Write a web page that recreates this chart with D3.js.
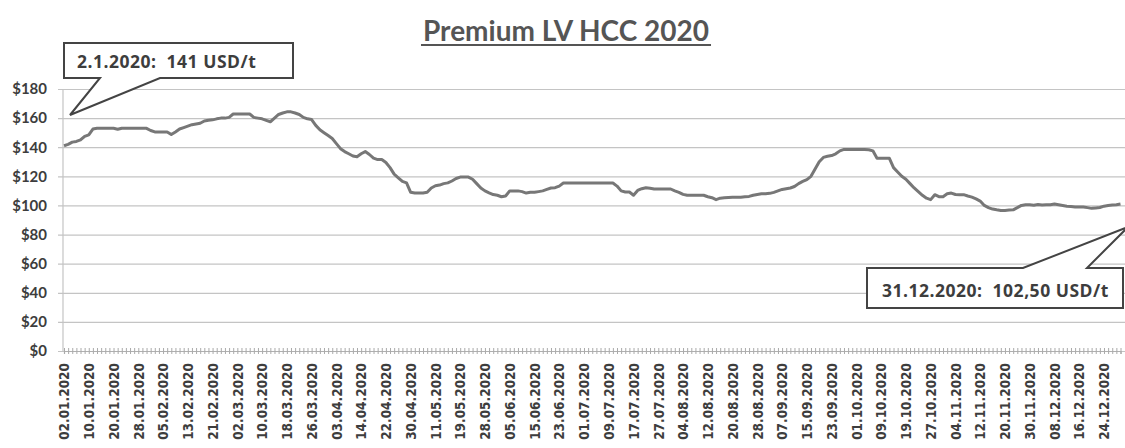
<!DOCTYPE html>
<html>
<head>
<meta charset="utf-8">
<script src="https://cdn.jsdelivr.net/npm/d3@7"></script>
<style>
  body { margin: 0; background: #fff; }
  svg { display: block; }
</style>
</head>
<body>
<script>
// chart text
var title = "Premium LV HCC 2020";
var startNote = "2.1.2020:  141 USD/t";
var endNote = "31.12.2020:  102,50 USD/t";

// trading days: all weekdays of 2020 from 2.1., minus these days
var holidays = ["10.04.2020", "01.05.2020", "21.05.2020", "25.12.2020"];
var yTicks = [0, 20, 40, 60, 80, 100, 120, 140, 160, 180];

// USD/t, one value per trading day
var prices = [
  141, 142, 143.5, 144, 145, 147.5, 148.5, 152.5, 153, 153,
  153, 153, 153, 152.3, 153, 153, 153, 153, 153, 153,
  153, 151.5, 150.5, 150.5, 150.5, 150.5, 148.7, 150.5, 152.5, 153.5,
  154.5, 155.5, 156, 156.5, 158, 158.5, 158.8, 159.5, 160, 160,
  160.5, 162.8, 162.8, 162.8, 162.8, 162.8, 160.5, 160, 159.5, 158.5,
  157.5, 160, 162.5, 163.5, 164.3, 164.3, 163.5, 162.5, 160.5, 159.5,
  159, 155, 152, 150, 148, 146, 142.5, 139, 137, 135.5,
  134, 133.5, 135.5, 137, 135, 132.5, 131.5, 131.5, 129.5, 126,
  121.5, 119, 116.5, 115.5, 109, 108.5, 108.5, 108.5, 109, 112,
  113.5, 114, 115, 115.5, 116.8, 118.5, 119.5, 119.5, 119.5, 118,
  115, 112, 110, 108.7, 107.5, 107, 106, 106.5, 110, 110,
  110, 109.5, 108.5, 109, 109, 109.5, 110, 111, 112, 112.2,
  113.3, 115.4, 115.4, 115.4, 115.4, 115.4, 115.4, 115.4, 115.4, 115.4,
  115.4, 115.4, 115.4, 115.4, 113.3, 110, 109.2, 109.2, 107, 110.3,
  111.5, 112.2, 111.8, 111.3, 111.3, 111.3, 111.3, 111.3, 110, 109,
  107.6, 107, 107, 107, 107, 107, 106, 105.3, 104, 105,
  105.3, 105.5, 105.7, 105.7, 105.7, 106, 106.2, 107, 107.5, 108,
  108, 108.3, 109, 110, 111, 111.5, 112, 113, 115, 116.5,
  117.7, 120, 125, 130, 133, 133.8, 134.3, 135.5, 137.5, 138.5,
  138.5, 138.5, 138.5, 138.5, 138.5, 138.3, 137.5, 132.5, 132.4, 132.4,
  132.4, 126, 123, 120, 118, 115, 112, 109.5, 107, 105,
  104, 107.4, 106, 106, 108, 108.5, 107.5, 107.4, 107.4, 106.5,
  105.7, 104.5, 103, 100, 98.5, 97.5, 97, 96.6, 96.6, 96.8,
  97, 98.5, 100, 100.5, 100.5, 100.2, 100.6, 100.3, 100.5, 100.5,
  101, 100.5, 100, 99.5, 99.3, 99, 99, 99, 98.5, 98,
  98.3, 98.6, 99.5, 100, 100.3, 100.5, 101
];

var fmt = d3.timeFormat("%d.%m.%Y");
var days = d3.timeDay.range(new Date(2020, 0, 2), new Date(2021, 0, 1))
  .filter(function(d) { return d.getDay() != 0 && d.getDay() != 6 && holidays.indexOf(fmt(d)) < 0; })
  .map(fmt);

var data = days.map(function(d, i) { return {date: d, price: prices[i]}; })
  .filter(function(d) { return d.price != null; });

var W = 1125, H = 448;
var plotL = 63, plotR = 1125, plotT = 89, plotB = 351;

var svg = d3.select("body").append("svg")
  .attr("width", W)
  .attr("height", H);

var x = d3.scalePoint().domain(days).range([plotL + 1, 1120.5]);
var y = d3.scaleLinear().domain([0, 180]).range([plotB, plotT]);

var textCol = "#3d3d3d";

// gridlines + y labels
var gy = svg.append("g")
  .attr("transform", "translate(" + (plotL - 5) + ",0)")
  .call(d3.axisLeft(y).tickValues(yTicks).tickSize(-(plotR - plotL + 5)).tickPadding(11)
    .tickFormat(function(d) { return "$" + d; }));
gy.select(".domain").remove();
gy.selectAll(".tick line").attr("stroke", "#c4c4c4").attr("stroke-width", 1.2);
gy.selectAll(".tick text")
  .style("font-family", "Lato, 'Open Sans', sans-serif")
  .style("font-weight", "bold")
  .style("font-size", "15px")
  .attr("fill", textCol);

// y axis line
svg.append("line")
  .attr("x1", plotL).attr("x2", plotL)
  .attr("y1", plotT).attr("y2", plotB)
  .attr("stroke", "#c4c4c4").attr("stroke-width", 1.2);

// x axis, a tick per day, a label every 6th day
var gx = svg.append("g")
  .attr("transform", "translate(0," + plotB + ")")
  .call(d3.axisBottom(x).tickSize(3)
    .tickFormat(function(d, i) { return i % 6 == 0 ? d : ""; }));
gx.select(".domain").attr("stroke", "#b0b0b0").attr("stroke-width", 1.2);
gx.selectAll(".tick line").attr("y1", -3).attr("y2", 3).attr("stroke", "#aaa");
gx.selectAll(".tick text")
  .attr("transform", "rotate(-90)")
  .attr("x", -12)
  .attr("y", 0)
  .attr("dy", "0.35em")
  .style("text-anchor", "end")
  .style("font-family", "'DejaVu Sans Condensed', 'DejaVu Sans', sans-serif")
  .style("font-stretch", "condensed")
  .style("font-weight", "bold")
  .style("font-size", "13.5px")
  .attr("fill", textCol);

// price line
var line = d3.line()
  .x(function(d) { return x(d.date); })
  .y(function(d) { return y(d.price); });

svg.append("path")
  .datum(data)
  .attr("fill", "none")
  .attr("stroke", "#777")
  .attr("stroke-width", 3)
  .attr("stroke-linejoin", "round")
  .attr("d", line);

// title, underlined
var t = svg.append("text")
  .attr("x", 566)
  .attr("y", 41)
  .attr("text-anchor", "middle")
  .style("font-family", "Lato, 'Open Sans', sans-serif")
  .style("font-weight", "bold")
  .style("font-size", "28px")
  .attr("fill", "#555")
  .text(title);
var tw = t.node().getComputedTextLength();
svg.append("line")
  .attr("x1", 566 - tw / 2 - 2).attr("x2", 566 + tw / 2 + 2)
  .attr("y1", 45).attr("y2", 45)
  .attr("stroke", "#555").attr("stroke-width", 2);

// callouts
var noteFont = function(sel) {
  sel.style("font-family", "'Open Sans', Lato, sans-serif")
    .style("font-weight", "bold")
    .style("font-size", "17.5px")
    .style("letter-spacing", "0.5px")
    .style("white-space", "pre")
    .attr("fill", textCol);
};

svg.append("path")
  .attr("d", "M64,43 H293 V78 H160 L70,115 L100,78 H64 Z")
  .attr("fill", "#fff")
  .attr("stroke", "#444")
  .attr("stroke-width", 2);
svg.append("text").attr("x", 77).attr("y", 68).call(noteFont).text(startNote);

svg.append("path")
  .attr("d", "M867,268 H1023 L1128,227 L1087,268 H1123 V308 H867 Z")
  .attr("fill", "#fff")
  .attr("stroke", "#444")
  .attr("stroke-width", 2);
svg.append("text").attr("x", 882).attr("y", 297).call(noteFont).text(endNote);
</script>
</body>
</html>
